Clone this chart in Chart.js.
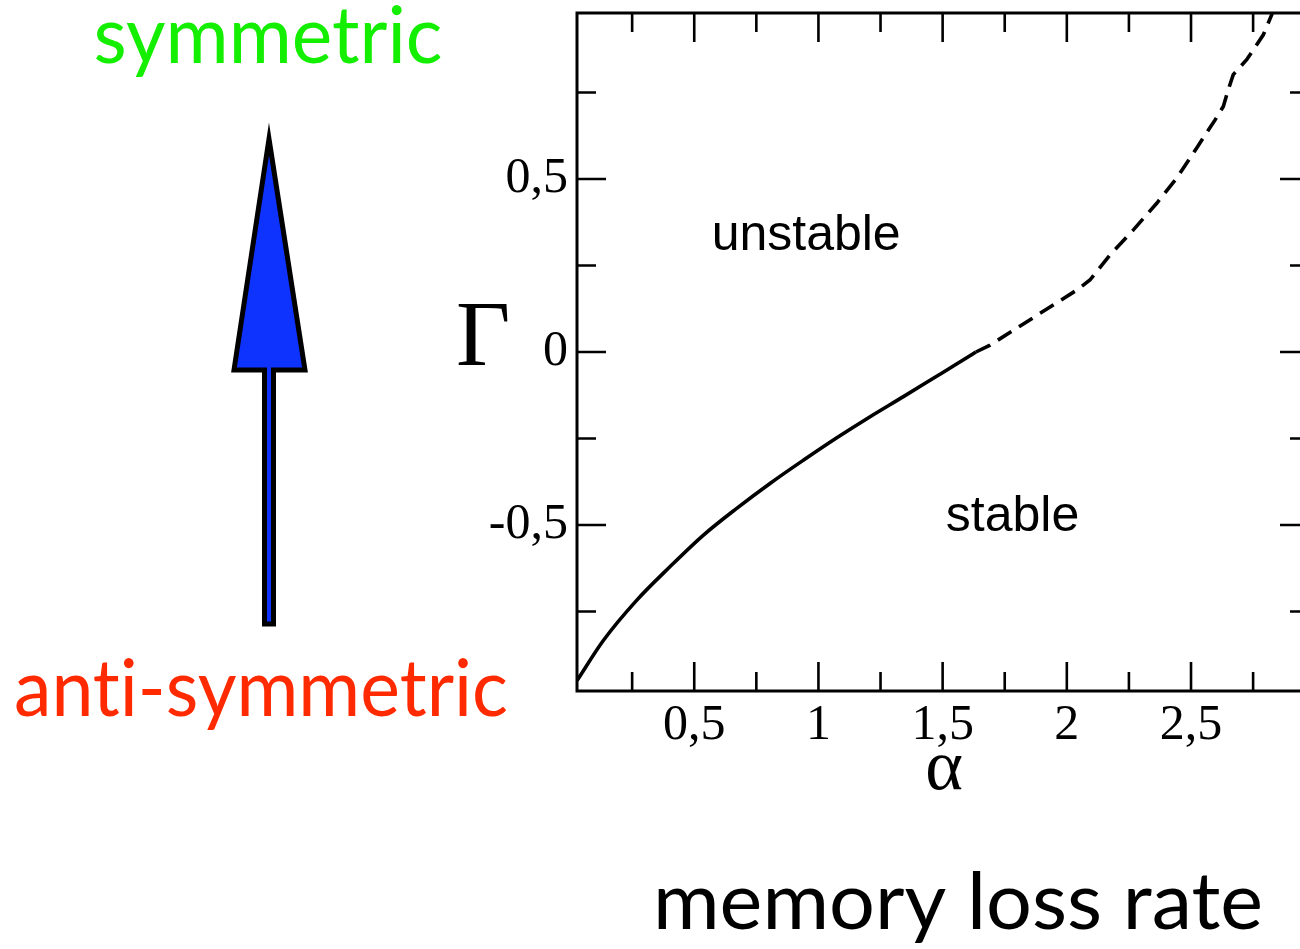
<!DOCTYPE html>
<html>
<head>
<meta charset="utf-8">
<script src="https://cdn.jsdelivr.net/npm/chart.js@4.4.1/dist/chart.umd.min.js"></script>
<style>
html, body { margin: 0; padding: 0; overflow: hidden; background: #fff; }
canvas { display: block; }
</style>
</head>
<body>
<canvas id="phase" width="1312" height="949"></canvas>
<script>
// critical line Gamma(alpha), solid part
var alphaSolid = [0.028, 0.134, 0.268, 0.402, 0.536, 0.671, 0.805, 0.939, 1.074, 1.208, 1.342, 1.476, 1.610, 1.634];
var gammaSolid = [-0.950, -0.834, -0.718, -0.621, -0.530, -0.452, -0.380, -0.313, -0.248, -0.187, -0.129, -0.070, -0.011, 0.000];
// dashed continuation
var alphaDashed = [1.634, 1.691, 2.040, 2.093, 2.174, 2.268, 2.362, 2.443, 2.523, 2.597, 2.630, 2.650, 2.670, 2.724, 2.791, 2.825, 2.840];
var gammaDashed = [0.000, 0.020, 0.179, 0.208, 0.281, 0.353, 0.430, 0.503, 0.590, 0.671, 0.710, 0.758, 0.802, 0.845, 0.917, 0.975, 1.010];

var xMajorTicks = [0.5, 1, 1.5, 2, 2.5];
var xMinorTicks = [0.25, 0.75, 1.25, 1.75, 2.25, 2.75];
var yMajorTicks = [-0.5, 0, 0.5];
var yMinorTicks = [-0.75, -0.25, 0.25, 0.75];
var xRange = [0.028, 2.975];
var yRange = [-0.98, 0.98];

function toPoints(xs, ys) {
	var pts = [];
	for (var i = 0; i < xs.length; i++) pts.push({x: xs[i], y: ys[i]});
	return pts;
}
function commaLabel(v) {
	return String(v).replace('.', ',');
}
function fitText(ctx, text, cx, baseline, font, width, color) {
	ctx.save();
	ctx.font = font;
	ctx.fillStyle = color;
	ctx.textAlign = 'center';
	ctx.textBaseline = 'alphabetic';
	var w = ctx.measureText(text).width;
	var k = width / w;
	ctx.translate(cx, baseline);
	ctx.scale(k, 1);
	ctx.fillText(text, 0, 0);
	ctx.restore();
}

// frame + inward ticks on all four sides
var framePlugin = {
	id: 'frame',
	afterDatasetsDraw: function(chart) {
		var ctx = chart.ctx, a = chart.chartArea;
		var xs = chart.scales.x, ys = chart.scales.y;
		ctx.save();
		ctx.strokeStyle = '#000';
		ctx.lineWidth = 2.6;
		function xt(v, len) {
			var p = xs.getPixelForValue(v);
			ctx.beginPath();
			ctx.moveTo(p, a.bottom); ctx.lineTo(p, a.bottom - len);
			ctx.moveTo(p, a.top); ctx.lineTo(p, a.top + len);
			ctx.stroke();
		}
		function yt(v, len) {
			var p = ys.getPixelForValue(v);
			ctx.beginPath();
			ctx.moveTo(a.left, p); ctx.lineTo(a.left + len, p);
			ctx.moveTo(a.right, p); ctx.lineTo(a.right - len, p);
			ctx.stroke();
		}
		xMajorTicks.forEach(function(v) { xt(v, 29); });
		xMinorTicks.forEach(function(v) { xt(v, 19); });
		yMajorTicks.forEach(function(v) { yt(v, 29); });
		yMinorTicks.forEach(function(v) { yt(v, 19); });
		ctx.lineWidth = 3;
		ctx.strokeRect(a.left, a.top, a.right - a.left, a.bottom - a.top);
		ctx.restore();
	},
	afterDraw: function(chart) {
		var ctx = chart.ctx;
		var xs = chart.scales.x, ys = chart.scales.y;
		// axis symbols
		ctx.save();
		ctx.fillStyle = '#000';
		ctx.font = '94px "Liberation Serif"';
		ctx.textAlign = 'left';
		ctx.fillText('\u0393', 456, 365);
		ctx.font = '72px "Liberation Serif"';
		ctx.textAlign = 'center';
		ctx.fillText('\u03b1', 944, 789);
		// region labels
		ctx.font = '50px "Liberation Sans"';
		ctx.textAlign = 'left';
		ctx.fillText('unstable', xs.getPixelForValue(0.570), ys.getPixelForValue(0.295));
		ctx.fillText('stable', xs.getPixelForValue(1.513), ys.getPixelForValue(-0.518));
		ctx.restore();

		fitText(ctx, 'symmetric', 268, 63, '80px Lato', 349, '#14ee00');
		fitText(ctx, 'ant\u200Ci-symmetric', 261, 716, '80px Lato', 494, '#ff2a00');
		fitText(ctx, 'memory loss rate', 958, 929, '80px Lato', 610, '#000');

		// arrow from anti-symmetric to symmetric
		ctx.save();
		ctx.beginPath();
		ctx.moveTo(269, 139);
		ctx.lineTo(305, 370);
		ctx.lineTo(273.5, 370);
		ctx.lineTo(273.5, 624);
		ctx.lineTo(264.5, 624);
		ctx.lineTo(264.5, 370);
		ctx.lineTo(234, 370);
		ctx.closePath();
		ctx.fillStyle = '#0f33ff';
		ctx.fill();
		ctx.lineWidth = 5;
		ctx.lineJoin = 'miter';
		ctx.strokeStyle = '#000';
		ctx.stroke();
		ctx.restore();
	}
};

var tickFont = {family: 'Liberation Serif', size: 50};

new Chart(document.getElementById('phase'), {
	type: 'scatter',
	data: {
		datasets: [{
			data: toPoints(alphaSolid, gammaSolid),
			showLine: true,
			borderColor: '#000',
			borderWidth: 3.6,
			pointRadius: 0,
			cubicInterpolationMode: 'monotone',
			fill: false
		}, {
			data: toPoints(alphaDashed, gammaDashed),
			showLine: true,
			borderColor: '#000',
			borderWidth: 3.6,
			borderDash: [16, 9],
			pointRadius: 0,
			tension: 0,
			fill: false
		}]
	},
	options: {
		responsive: false,
		animation: false,
		events: [],
		layout: {padding: {top: 13, right: 3, left: 0, bottom: 0}},
		plugins: {legend: {display: false}, tooltip: {enabled: false}},
		scales: {
			x: {
				type: 'linear', min: xRange[0], max: xRange[1],
				grid: {display: false, drawTicks: false},
				border: {display: false},
				ticks: {padding: 5, font: tickFont, color: '#000', maxRotation: 0, autoSkip: false, callback: commaLabel},
				afterBuildTicks: function(s) { s.ticks = xMajorTicks.map(function(v) { return {value: v}; }); },
				afterFit: function(s) { s.height = 258; s.paddingLeft = 0; s.paddingRight = 0; }
			},
			y: {
				type: 'linear', min: yRange[0], max: yRange[1],
				grid: {display: false, drawTicks: false},
				border: {display: false},
				ticks: {padding: 9, font: tickFont, color: '#000', autoSkip: false, callback: commaLabel},
				afterBuildTicks: function(s) { s.ticks = yMajorTicks.map(function(v) { return {value: v}; }); },
				afterFit: function(s) { s.width = 577; s.paddingTop = 0; s.paddingBottom = 0; }
			}
		}
	},
	plugins: [framePlugin]
});
</script>
</body>
</html>
